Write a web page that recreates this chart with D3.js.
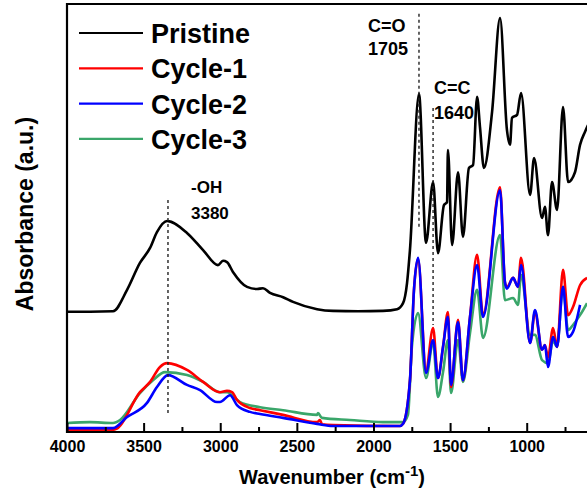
<!DOCTYPE html>
<html>
<head>
<meta charset="utf-8">
<script src="https://cdn.jsdelivr.net/npm/d3@7"></script>
<style>
  body { margin: 0; background: #fff; }
  text { font-family: Arial, "Liberation Sans", sans-serif; font-weight: bold; }
</style>
</head>
<body>
<div id="vis"></div>
<script>
// wavenumber (cm-1), absorbance (a.u.)
var pristine = [[4000,28.1],[3850,28.1],[3700,28.2],[3608,33.2],[3524,39.5],[3458,43.0],[3413,46.7],[3347,49.3],[3217,46.5],[3112,42.5],[3015,39.0],[2982,40.0],[2956,39.7],[2917,37.4],[2825,33.9],[2760,33.4],[2721,33.6],[2675,32.5],[2590,31.5],[2525,30.4],[2368,28.7],[2264,28.3],[2100,28.2],[1938,28.3],[1846,28.7],[1807,30.1],[1781,34.8],[1762,42.5],[1703,79.0],[1657,44.2],[1611,58.4],[1579,41.8],[1540,53.0],[1520,53.7],[1514,65.9],[1487,43.7],[1448,60.7],[1416,45.6],[1377,61.7],[1350,62.4],[1324,78.3],[1305,71.3],[1279,61.7],[1226,74.8],[1174,96.7],[1129,70.6],[1109,67.1],[1096,73.4],[1063,74.1],[1037,79.2],[978,55.4],[952,64.0],[900,50.0],[881,52.6],[861,46.0],[835,58.4],[802,51.9],[763,75.9],[730,58.4],[685,60.7],[652,67.1],[620,70.1],[600,71.7]];

var cycle1 = [[4000,0.5],[3700,0.5],[3674,0.8],[3524,9.3],[3458,11.7],[3393,15.2],[3347,16.1],[3217,14.5],[3112,11.7],[3002,9.3],[2956,9.6],[2923,9.3],[2891,7.5],[2806,5.6],[2740,5.1],[2590,4.0],[2368,2.3],[2349,2.8],[2336,1.8],[2264,1.6],[1827,1.4],[1807,1.9],[1762,12.0],[1736,33.0],[1709,40.4],[1657,14.5],[1611,24.3],[1579,12.6],[1546,19.9],[1514,28.0],[1494,10.5],[1448,26.2],[1416,12.1],[1370,26.9],[1324,41.4],[1285,27.3],[1174,57.2],[1142,35.0],[1129,33.9],[1089,36.0],[1057,33.9],[1037,40.7],[978,20.8],[946,28.0],[900,19.2],[881,20.3],[861,17.5],[828,24.3],[802,19.9],[763,37.9],[730,27.3],[698,29.2],[652,34.3],[606,36.0]];

var cycle2 = [[4000,0.9],[3700,0.9],[3608,3.5],[3478,6.8],[3413,10.5],[3341,13.3],[3217,11.0],[3132,9.8],[3021,7.0],[3002,7.0],[2936,8.6],[2891,6.3],[2806,4.7],[2740,4.2],[2590,3.3],[2368,1.9],[2264,1.4],[1827,1.4],[1807,1.9],[1762,12.0],[1736,33.0],[1709,40.7],[1657,13.8],[1611,21.5],[1579,12.6],[1546,19.9],[1514,26.9],[1494,11.0],[1448,25.7],[1416,12.1],[1370,26.9],[1324,39.0],[1285,26.9],[1174,56.5],[1142,35.0],[1129,33.5],[1089,36.0],[1057,33.9],[1037,39.0],[978,20.8],[946,28.5],[900,19.2],[881,20.3],[861,15.2],[828,22.2],[802,19.9],[763,33.9],[730,22.2],[698,23.4],[652,29.7]];

var cycle3 = [[4000,2.1],[3850,2.3],[3700,2.1],[3654,2.8],[3524,9.1],[3439,12.1],[3360,14.0],[3217,13.3],[3112,11.7],[3002,9.3],[2956,9.3],[2871,7.0],[2740,5.8],[2590,5.1],[2368,4.0],[2362,4.4],[2336,3.3],[2153,2.8],[1938,2.3],[1807,2.3],[1775,4.0],[1749,20.0],[1709,27.8],[1657,12.6],[1611,21.0],[1579,8.2],[1546,14.0],[1514,21.5],[1494,9.1],[1448,21.5],[1416,11.7],[1370,23.1],[1324,33.2],[1285,22.0],[1174,46.0],[1142,30.8],[1089,31.3],[1057,29.7],[1037,36.7],[978,22.7],[946,22.7],[900,16.8],[861,16.1],[828,21.3],[802,19.9],[763,33.9],[730,23.8],[698,25.0],[652,27.3],[606,30.1]];

var seriesNames  = ['Pristine', 'Cycle-1', 'Cycle-2', 'Cycle-3'];
var seriesColors = ['#000000', '#ff0000', '#0000ff', '#3aa66a'];
var xTicks = [4000, 3500, 3000, 2500, 2000, 1500, 1000];
var xMinorTicks = [3750, 3250, 2750, 2250, 1750, 1250, 750];

// peak markers: [wavenumber, from, to]
var peaks = [
  [3341, 54.2, 4.0],
  [1703, 97.7, 47.4],
  [1611, 75.7, 25.0]
];

var width = 587, height = 500;
var margin = {top: 4, right: 0, bottom: 68, left: 67};

var svg = d3.select('#vis')
  .append('svg')
  .attr('width', width)
  .attr('height', height);

var xScale = d3.scaleLinear()
  .domain([4000, 600])
  .range([margin.left, width + 1]);

var yScale = d3.scaleLinear()
  .domain([0, 100])
  .range([height - margin.bottom, margin.top]);

var line = d3.line()
  .x(function(d){ return xScale(d[0]); })
  .y(function(d){ return yScale(d[1]); })
  .curve(d3.curveMonotoneX);

svg.append('clipPath').attr('id', 'clip')
  .append('rect')
  .attr('x', margin.left).attr('y', margin.top)
  .attr('width', width - margin.left).attr('height', height - margin.bottom - margin.top);

var plot = svg.append('g').attr('clip-path', 'url(#clip)');

// spectra, pristine on top
[[cycle3, 3], [cycle1, 1], [cycle2, 2], [pristine, 0]].forEach(function(s){
  plot.append('path')
    .attr('d', line(s[0]))
    .attr('fill', 'none')
    .attr('stroke', seriesColors[s[1]])
    .attr('stroke-width', 2.6)
    .attr('stroke-linejoin', 'round');
});

// dashed peak lines + labels
peaks.forEach(function(p){
  var x = xScale(p[0]);
  svg.append('line')
    .attr('x1', x).attr('x2', x)
    .attr('y1', yScale(p[1])).attr('y2', yScale(p[2]))
    .attr('stroke', '#222')
    .attr('stroke-width', 1.4)
    .attr('stroke-dasharray', '3,3');
});
var ann = [
  {t: '-OH',  x: 191, y: 193, s: 17},
  {t: '3380', x: 191, y: 219, s: 17},
  {t: 'C=O',  x: 368, y: 32,  s: 18},
  {t: '1705', x: 368, y: 55,  s: 18},
  {t: 'C=C',  x: 434, y: 94,  s: 18},
  {t: '1640', x: 434, y: 119, s: 18}
];
svg.selectAll('.ann').data(ann).enter().append('text')
  .attr('x', function(d){ return d.x; })
  .attr('y', function(d){ return d.y; })
  .style('font-size', function(d){ return d.s + 'px'; })
  .text(function(d){ return d.t; });

// axes frame
var xAxis = d3.axisBottom(xScale).tickValues(xTicks).tickSize(-9).tickFormat(d3.format('d'));
var gx = svg.append('g')
  .attr('transform', 'translate(0,' + (height - margin.bottom) + ')')
  .call(xAxis);
gx.select('.domain').remove();
gx.selectAll('.tick line').attr('stroke', '#000').attr('stroke-width', 2);
gx.selectAll('.tick text')
  .attr('y', 0)
  .attr('dy', null)
  .attr('transform', 'translate(0,20)')
  .style('font-size', '16px')
  .style('font-family', 'Arial, "Liberation Sans", sans-serif')
  .style('font-weight', 'bold')
  .attr('fill', '#000');

var gMinor = svg.append('g')
  .attr('transform', 'translate(0,' + (height - margin.bottom) + ')')
  .call(d3.axisBottom(xScale).tickValues(xMinorTicks).tickSize(-5).tickFormat(''));
gMinor.select('.domain').remove();
gMinor.selectAll('.tick line').attr('stroke', '#000').attr('stroke-width', 2);

svg.append('path')
  .attr('d', 'M' + width + ',' + margin.top + 'H' + margin.left + 'V' + (height - margin.bottom) + 'H' + width)
  .attr('fill', 'none')
  .attr('stroke', '#000')
  .attr('stroke-width', 2.2);

// axis titles
var xt = svg.append('text')
  .attr('x', 332)
  .attr('y', 484)
  .attr('text-anchor', 'middle')
  .style('font-size', '20px');
xt.append('tspan').text('Wavenumber (cm');
xt.append('tspan').attr('dy', -8).style('font-size', '15px').text('-1');
xt.append('tspan').attr('dy', 8).text(')');

svg.append('text')
  .attr('transform', 'translate(33,214) rotate(-90)')
  .attr('text-anchor', 'middle')
  .style('font-size', '23px')
  .text('Absorbance (a.u.)');

// legend
var legend = svg.append('g');
seriesNames.forEach(function(name, i){
  var y = 33 + i * 35.3;
  legend.append('line')
    .attr('x1', 79).attr('x2', 143)
    .attr('y1', y).attr('y2', y)
    .attr('stroke', seriesColors[i])
    .attr('stroke-width', 2.2);
  legend.append('text')
    .attr('x', 151)
    .attr('y', y + 10)
    .style('font-size', '27px')
    .text(name);
});
</script>
</body>
</html>
